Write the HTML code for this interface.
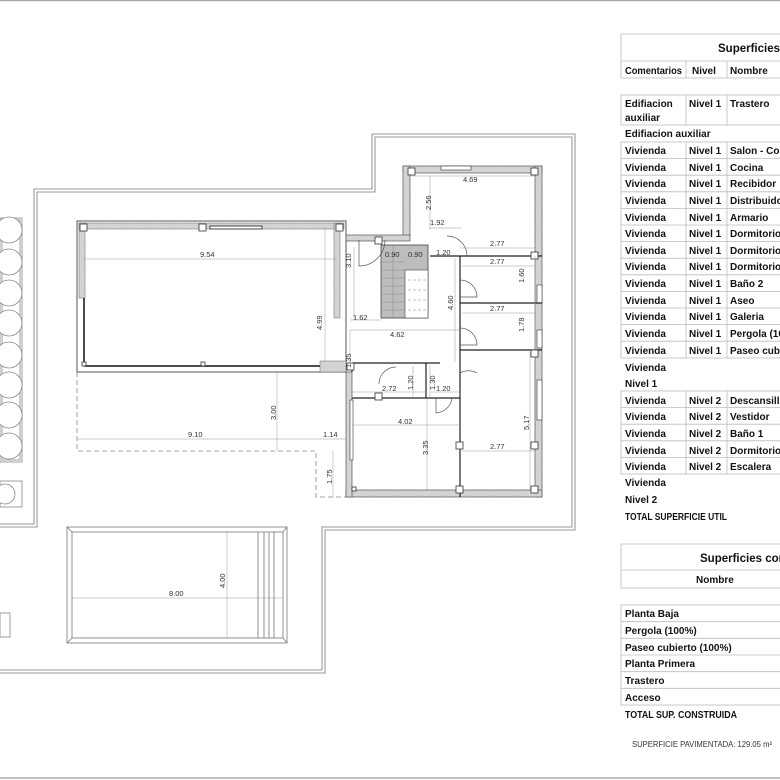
<!DOCTYPE html>
<html><head><meta charset="utf-8">
<style>
html,body{margin:0;padding:0;background:#fff;}
svg{display:block;}
.t{font-family:"Liberation Sans",sans-serif;font-weight:bold;font-size:10px;fill:#111;}
.d{font-family:"Liberation Sans",sans-serif;font-size:7.5px;fill:#333;}
</style></head><body>
<svg width="780" height="780" viewBox="0 0 780 780" xmlns="http://www.w3.org/2000/svg">
<defs>
<pattern id="h" width="3" height="3" patternUnits="userSpaceOnUse"><rect width="3" height="3" fill="#d8d8d8"/><path d="M0,3L3,0" stroke="#bbb" stroke-width="0.5"/></pattern>
</defs>
<line x1="0" y1="0.5" x2="780" y2="0.5" stroke="#aaa" stroke-width="1.5"/>
<line x1="0" y1="778" x2="780" y2="778" stroke="#aaa" stroke-width="1.5"/>

<g fill="none" stroke="#777" stroke-width="0.8">
<path d="M0,527 H37 V192 H375 V137 H572 V527 H322 V670 H0"/>
<path d="M0,524 H34 V189 H372 V134 H575 V530 H325 V673 H0"/>
</g>

<g fill="#fff" stroke="#888" stroke-width="0.8">
<rect x="0" y="218" width="22" height="244"/>
<rect x="2" y="220" width="18" height="240"/>
<circle cx="9" cy="230" r="13"/><circle cx="9" cy="262" r="13"/><circle cx="9" cy="293" r="13"/><circle cx="9" cy="323" r="13"/>
<circle cx="9" cy="355" r="13"/><circle cx="9" cy="385" r="13"/><circle cx="9" cy="415" r="13"/><circle cx="9" cy="446" r="13"/>
<rect x="0" y="481" width="22" height="26"/><circle cx="5" cy="494" r="10"/>
<rect x="0" y="613" width="10" height="24"/>
</g>

<rect x="77" y="221" width="269" height="151" fill="#fff" stroke="#555" stroke-width="1"/>
<rect x="79" y="223" width="265" height="6" fill="url(#h)" stroke="#666" stroke-width="0.5"/>
<rect x="79" y="223" width="6" height="75" fill="url(#h)" stroke="#666" stroke-width="0.5"/>
<rect x="334" y="223" width="6" height="95" fill="url(#h)" stroke="#666" stroke-width="0.5"/>
<rect x="210" y="226" width="52" height="3" fill="#fff" stroke="#222" stroke-width="0.8"/>
<line x1="84" y1="298" x2="84" y2="366" stroke="#111" stroke-width="1.5"/>
<line x1="84" y1="366" x2="320" y2="366" stroke="#111" stroke-width="1.5"/>
<rect x="320" y="361" width="26" height="11" fill="url(#h)" stroke="#666" stroke-width="0.5"/>
<g fill="#fff" stroke="#333" stroke-width="0.8">
<rect x="80" y="224" width="7" height="7"/><rect x="199" y="224" width="7" height="7"/><rect x="336" y="224" width="7" height="7"/>
<rect x="82" y="362" width="4" height="4"/><rect x="201" y="362" width="4" height="4"/>
</g>

<path d="M77,372 V451 H316 V497 H346" fill="none" stroke="#888" stroke-width="0.8" stroke-dasharray="5,3"/>

<g fill="url(#h)" stroke="#555" stroke-width="0.7">
<rect x="403" y="166" width="139" height="7"/>
<rect x="403" y="166" width="7" height="70"/>
<rect x="535" y="166" width="7" height="331"/>
<rect x="346" y="490" width="196" height="7"/>
<rect x="346" y="372" width="6" height="125"/>
<rect x="346" y="235" width="64" height="6"/>
</g>
<rect x="441" y="166" width="30" height="4" fill="#fff" stroke="#333" stroke-width="0.6"/>
<rect x="537" y="285" width="5" height="18" fill="#fff" stroke="#333" stroke-width="0.6"/>
<rect x="537" y="330" width="5" height="18" fill="#fff" stroke="#333" stroke-width="0.6"/>
<rect x="537" y="380" width="5" height="40" fill="#fff" stroke="#333" stroke-width="0.6"/>
<rect x="350" y="400" width="3" height="60" fill="#fff" stroke="#333" stroke-width="0.6"/>
<g stroke="#222" stroke-width="1.2" fill="none">
<line x1="460" y1="256" x2="460" y2="497"/>
<line x1="430" y1="256" x2="542" y2="256"/>
<line x1="460" y1="303" x2="542" y2="303"/>
<line x1="460" y1="350" x2="542" y2="350"/>
<line x1="352" y1="363" x2="440" y2="363"/>
<line x1="352" y1="398" x2="460" y2="398"/>
<line x1="426" y1="363" x2="426" y2="398"/>
<line x1="352" y1="363" x2="352" y2="372"/>
</g>
<rect x="381" y="245" width="47" height="73" fill="#bdbdbd" stroke="#444" stroke-width="0.8"/>
<rect x="405" y="270" width="23" height="48" fill="#fff" stroke="#444" stroke-width="0.6"/>
<g stroke="#888" stroke-width="0.5">
<line x1="381" y1="262" x2="405" y2="262"/><line x1="381" y1="270" x2="405" y2="270"/><line x1="381" y1="278" x2="405" y2="278"/><line x1="381" y1="286" x2="405" y2="286"/><line x1="381" y1="294" x2="405" y2="294"/><line x1="381" y1="302" x2="405" y2="302"/><line x1="381" y1="310" x2="405" y2="310"/>
<line x1="393" y1="245" x2="393" y2="318"/>
<line x1="408" y1="280" x2="426" y2="280" stroke-dasharray="3,2"/><line x1="408" y1="290" x2="426" y2="290" stroke-dasharray="3,2"/><line x1="408" y1="300" x2="426" y2="300" stroke-dasharray="3,2"/><line x1="408" y1="310" x2="426" y2="310" stroke-dasharray="3,2"/>
</g>
<g fill="none" stroke="#555" stroke-width="0.7">
<path d="M447,236 A20,20 0 0 1 467,256"/>
<path d="M460,280 A17,17 0 0 1 477,297 H460"/>
<path d="M460,328 A17,17 0 0 1 477,345 H460"/>
<path d="M460,373 A17,17 0 0 1 477,373"/>
<path d="M359,240 V266 A26,26 0 0 0 385,240"/>
<path d="M396,367 A17,17 0 0 0 379,384"/>
<path d="M436,398 V413 A17,17 0 0 0 452,398"/>
</g>
<g fill="#fff" stroke="#333" stroke-width="0.8">
<rect x="408" y="168" width="7" height="7"/><rect x="531" y="168" width="7" height="7"/><rect x="531" y="252" width="7" height="7"/>
<rect x="375" y="237" width="7" height="7"/><rect x="347" y="363" width="7" height="7"/>
<rect x="375" y="393" width="7" height="7"/><rect x="456" y="442" width="7" height="7"/><rect x="531" y="442" width="7" height="7"/>
<rect x="456" y="486" width="7" height="7"/><rect x="531" y="486" width="7" height="7"/><rect x="531" y="350" width="7" height="7"/>
<rect x="352" y="487" width="4" height="4"/>
</g>

<g stroke="#999" stroke-width="0.5" fill="none">
<line x1="84" y1="259" x2="337" y2="259"/>
<line x1="325" y1="228" x2="325" y2="362"/>
<line x1="77" y1="439" x2="316" y2="439"/>
<line x1="316" y1="439" x2="346" y2="439"/>
<line x1="277" y1="372" x2="277" y2="451"/>
<line x1="333" y1="451" x2="333" y2="497"/>
<line x1="354" y1="247" x2="354" y2="318"/>
<line x1="350" y1="320" x2="381" y2="320"/>
<line x1="350" y1="330" x2="460" y2="330"/>
<line x1="350" y1="330" x2="350" y2="363"/>
<line x1="410" y1="176" x2="535" y2="176"/>
<line x1="430" y1="176" x2="430" y2="230"/>
<line x1="430" y1="228" x2="462" y2="228"/>
<line x1="460" y1="248" x2="535" y2="248"/>
<line x1="462" y1="266" x2="535" y2="266"/>
<line x1="462" y1="313" x2="535" y2="313"/>
<line x1="535" y1="256" x2="535" y2="303"/>
<line x1="535" y1="303" x2="535" y2="350"/>
<line x1="455" y1="258" x2="455" y2="362"/>
<line x1="352" y1="392" x2="426" y2="392"/>
<line x1="413" y1="366" x2="413" y2="398"/>
<line x1="430" y1="366" x2="430" y2="398"/>
<line x1="431" y1="392" x2="460" y2="392"/>
<line x1="352" y1="425" x2="460" y2="425"/>
<line x1="427" y1="398" x2="427" y2="490"/>
<line x1="462" y1="451" x2="535" y2="451"/>
<line x1="530" y1="352" x2="530" y2="490"/>
<line x1="72" y1="598" x2="283" y2="598"/>
<line x1="227" y1="532" x2="227" y2="638"/>
</g>
<g class="d">
<text x="200" y="257">9.54</text>
<text x="188" y="437">9.10</text>
<text x="323" y="437">1.14</text>
<text x="169" y="596">8.00</text>
<text x="463" y="182">4.69</text>
<text x="430" y="225">1.92</text>
<text x="490" y="246">2.77</text>
<text x="490" y="264">2.77</text>
<text x="490" y="311">2.77</text>
<text x="353" y="320">1.62</text>
<text x="390" y="337">4.62</text>
<text x="385" y="257">0.90</text>
<text x="408" y="257">0.90</text>
<text x="436" y="255">1.20</text>
<text x="382" y="391">2.72</text>
<text x="436" y="391">1.20</text>
<text x="398" y="424">4.02</text>
<text x="490" y="449">2.77</text>
<g transform="rotate(-90)">
<text x="-330" y="322">4.99</text>
<text x="-268" y="351">3.10</text>
<text x="-368" y="351">1.35</text>
<text x="-420" y="276">3.00</text>
<text x="-484" y="332">1.75</text>
<text x="-210" y="431">2.56</text>
<text x="-310" y="453">4.60</text>
<text x="-283" y="524">1.60</text>
<text x="-332" y="524">1.78</text>
<text x="-390" y="413">1.20</text>
<text x="-390" y="435">1.30</text>
<text x="-455" y="428">3.35</text>
<text x="-430" y="529">5.17</text>
<text x="-588" y="225">4.00</text>
</g>
</g>

<g fill="none" stroke="#777" stroke-width="0.8">
<rect x="67" y="527" width="220" height="116"/>
<rect x="72" y="532" width="211" height="106"/>
<line x1="67" y1="527" x2="72" y2="532"/><line x1="287" y1="527" x2="283" y2="532"/><line x1="67" y1="643" x2="72" y2="638"/><line x1="287" y1="643" x2="283" y2="638"/>
<line x1="258" y1="532" x2="258" y2="638"/><line x1="264" y1="532" x2="264" y2="638"/><line x1="269" y1="532" x2="269" y2="638"/><line x1="274" y1="532" x2="274" y2="638"/>
</g>

<g fill="none" stroke="#bbb" stroke-width="0.8">
<rect x="621" y="34" width="160" height="44"/>
<line x1="621" y1="61" x2="780" y2="61"/>
<line x1="686" y1="61" x2="686" y2="78"/><line x1="727" y1="61" x2="727" y2="78"/>
<rect x="621" y="95" width="160" height="30"/>
<line x1="686" y1="95" x2="686" y2="125"/><line x1="727" y1="95" x2="727" y2="125"/>
<rect x="621" y="142" width="160" height="216"/>
<line x1="686" y1="142" x2="686" y2="358"/><line x1="727" y1="142" x2="727" y2="358"/>
<line x1="621" y1="158.6" x2="780" y2="158.6"/><line x1="621" y1="175.2" x2="780" y2="175.2"/><line x1="621" y1="191.8" x2="780" y2="191.8"/><line x1="621" y1="208.4" x2="780" y2="208.4"/><line x1="621" y1="225" x2="780" y2="225"/><line x1="621" y1="241.6" x2="780" y2="241.6"/><line x1="621" y1="258.2" x2="780" y2="258.2"/><line x1="621" y1="274.8" x2="780" y2="274.8"/><line x1="621" y1="291.4" x2="780" y2="291.4"/><line x1="621" y1="308" x2="780" y2="308"/><line x1="621" y1="324.6" x2="780" y2="324.6"/><line x1="621" y1="341.2" x2="780" y2="341.2"/>
<rect x="621" y="391" width="160" height="83"/>
<line x1="686" y1="391" x2="686" y2="474"/><line x1="727" y1="391" x2="727" y2="474"/>
<line x1="621" y1="407.6" x2="780" y2="407.6"/><line x1="621" y1="424.2" x2="780" y2="424.2"/><line x1="621" y1="440.8" x2="780" y2="440.8"/><line x1="621" y1="457.4" x2="780" y2="457.4"/>
<rect x="621" y="544" width="160" height="44"/>
<line x1="621" y1="570" x2="780" y2="570"/>
<rect x="621" y="605" width="160" height="100"/>
<line x1="621" y1="621.7" x2="780" y2="621.7"/><line x1="621" y1="638.3" x2="780" y2="638.3"/><line x1="621" y1="655" x2="780" y2="655"/><line x1="621" y1="671.7" x2="780" y2="671.7"/><line x1="621" y1="688.3" x2="780" y2="688.3"/>
</g>
<g class="t">
<text x="718" y="52" font-size="11.5">Superficies (</text>
<text x="625" y="74" textLength="57" lengthAdjust="spacingAndGlyphs">Comentarios</text>
<text x="692" y="74">Nivel</text>
<text x="730" y="74">Nombre</text>
<text x="625" y="107">Edifiacion</text><text x="625" y="121">auxiliar</text>
<text x="689" y="107">Nivel 1</text><text x="730" y="107">Trastero</text>
<text x="625" y="137">Edifiacion auxiliar</text>
<text x="625" y="154">Vivienda</text><text x="689" y="154">Nivel 1</text><text x="730" y="154">Salon - Com</text>
<text x="625" y="171">Vivienda</text><text x="689" y="171">Nivel 1</text><text x="730" y="171">Cocina</text>
<text x="625" y="187">Vivienda</text><text x="689" y="187">Nivel 1</text><text x="730" y="187">Recibidor</text>
<text x="625" y="204">Vivienda</text><text x="689" y="204">Nivel 1</text><text x="730" y="204">Distribuidor</text>
<text x="625" y="221">Vivienda</text><text x="689" y="221">Nivel 1</text><text x="730" y="221">Armario</text>
<text x="625" y="237">Vivienda</text><text x="689" y="237">Nivel 1</text><text x="730" y="237">Dormitorio</text>
<text x="625" y="254">Vivienda</text><text x="689" y="254">Nivel 1</text><text x="730" y="254">Dormitorio</text>
<text x="625" y="270">Vivienda</text><text x="689" y="270">Nivel 1</text><text x="730" y="270">Dormitorio</text>
<text x="625" y="287">Vivienda</text><text x="689" y="287">Nivel 1</text><text x="730" y="287">Baño 2</text>
<text x="625" y="304">Vivienda</text><text x="689" y="304">Nivel 1</text><text x="730" y="304">Aseo</text>
<text x="625" y="320">Vivienda</text><text x="689" y="320">Nivel 1</text><text x="730" y="320">Galeria</text>
<text x="625" y="337">Vivienda</text><text x="689" y="337">Nivel 1</text><text x="730" y="337">Pergola (10</text>
<text x="625" y="354">Vivienda</text><text x="689" y="354">Nivel 1</text><text x="730" y="354">Paseo cubie</text>
<text x="625" y="371">Vivienda</text>
<text x="625" y="387">Nivel 1</text>
<text x="625" y="404">Vivienda</text><text x="689" y="404">Nivel 2</text><text x="730" y="404">Descansillo</text>
<text x="625" y="420">Vivienda</text><text x="689" y="420">Nivel 2</text><text x="730" y="420">Vestidor</text>
<text x="625" y="437">Vivienda</text><text x="689" y="437">Nivel 2</text><text x="730" y="437">Baño 1</text>
<text x="625" y="454">Vivienda</text><text x="689" y="454">Nivel 2</text><text x="730" y="454">Dormitorio</text>
<text x="625" y="470">Vivienda</text><text x="689" y="470">Nivel 2</text><text x="730" y="470">Escalera</text>
<text x="625" y="486">Vivienda</text>
<text x="625" y="503">Nivel 2</text>
<text x="625" y="520" textLength="102" lengthAdjust="spacingAndGlyphs">TOTAL SUPERFICIE UTIL</text>
<text x="700" y="562" font-size="11.5">Superficies cons</text>
<text x="696" y="583">Nombre</text>
<text x="625" y="617">Planta Baja</text>
<text x="625" y="634">Pergola (100%)</text>
<text x="625" y="651">Paseo cubierto (100%)</text>
<text x="625" y="667">Planta Primera</text>
<text x="625" y="684">Trastero</text>
<text x="625" y="701">Acceso</text>
<text x="625" y="718" textLength="112" lengthAdjust="spacingAndGlyphs">TOTAL SUP. CONSTRUIDA</text>
</g>
<text x="632" y="747" font-family="Liberation Sans,sans-serif" font-size="8" fill="#333" textLength="140" lengthAdjust="spacingAndGlyphs">SUPERFICIE PAVIMENTADA: 129.05 m²</text>
</svg>
</body></html>
